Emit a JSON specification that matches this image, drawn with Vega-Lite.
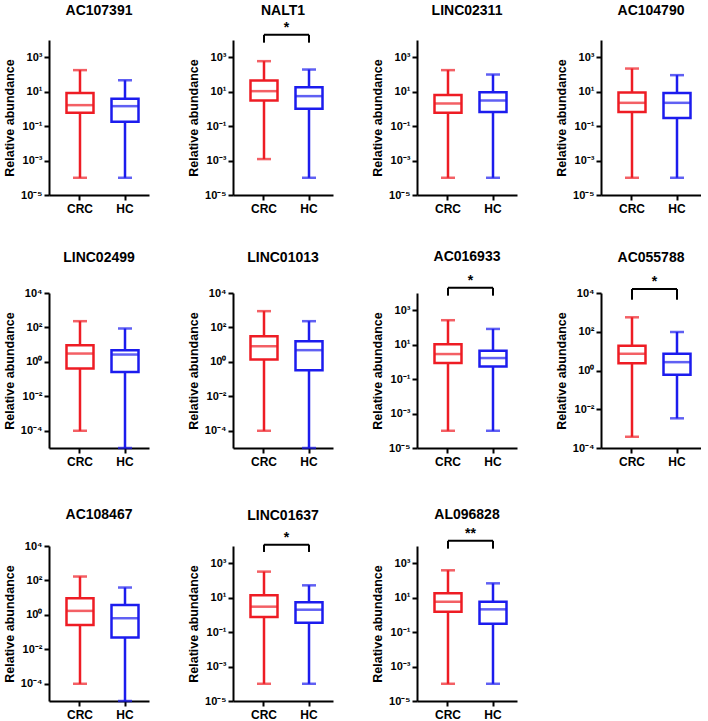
{
  "$schema": "https://vega.github.io/schema/vega-lite/v6.json",
  "background": "white",
  "padding": {"left": 3, "top": 3, "right": 0, "bottom": 0},
  "columns": 4,
  "bounds": "flush",
  "spacing": {"row": 98, "column": 84},
  "datasets": {
    "box": [
      {"gene": "AC107391", "group": "CRC", "min": 0.0001, "q1": 0.59, "median": 1.65, "q3": 8.5, "max": 178},
      {"gene": "AC107391", "group": "HC", "min": 0.0001, "q1": 0.178, "median": 1.44, "q3": 3.85, "max": 46},
      {"gene": "NALT1", "group": "CRC", "min": 0.00122, "q1": 3.08, "median": 10.7, "q3": 44, "max": 590, "sig": "*"},
      {"gene": "NALT1", "group": "HC", "min": 0.0001, "q1": 1.01, "median": 5.5, "q3": 18.2, "max": 193},
      {"gene": "LINC02311", "group": "CRC", "min": 0.0001, "q1": 0.59, "median": 2.06, "q3": 6.5, "max": 178},
      {"gene": "LINC02311", "group": "HC", "min": 0.0001, "q1": 0.65, "median": 3.07, "q3": 9.4, "max": 99},
      {"gene": "AC104790", "group": "CRC", "min": 0.0001, "q1": 0.65, "median": 2.25, "q3": 9.0, "max": 220},
      {"gene": "AC104790", "group": "HC", "min": 0.0001, "q1": 0.30, "median": 2.25, "q3": 8.5, "max": 91},
      {"gene": "LINC02499", "group": "CRC", "min": 0.0001, "q1": 0.41, "median": 3.05, "q3": 9.3, "max": 231},
      {"gene": "LINC02499", "group": "HC", "min": 0.00001, "q1": 0.26, "median": 2.67, "q3": 4.8, "max": 87},
      {"gene": "LINC01013", "group": "CRC", "min": 0.0001, "q1": 1.37, "median": 8.1, "q3": 31, "max": 883},
      {"gene": "LINC01013", "group": "HC", "min": 0.00001, "q1": 0.33, "median": 4.8, "q3": 15.9, "max": 231},
      {"gene": "AC016933", "group": "CRC", "min": 0.0001, "q1": 0.85, "median": 2.85, "q3": 10.5, "max": 263, "sig": "*"},
      {"gene": "AC016933", "group": "HC", "min": 0.0001, "q1": 0.54, "median": 1.67, "q3": 4.47, "max": 82},
      {"gene": "AC055788", "group": "CRC", "min": 0.00038, "q1": 2.4, "median": 7.3, "q3": 19, "max": 557, "sig": "*"},
      {"gene": "AC055788", "group": "HC", "min": 0.0034, "q1": 0.6, "median": 2.7, "q3": 7.3, "max": 97},
      {"gene": "AC108467", "group": "CRC", "min": 0.0001, "q1": 0.26, "median": 1.71, "q3": 9.3, "max": 169},
      {"gene": "AC108467", "group": "HC", "min": 0.00001, "q1": 0.048, "median": 0.64, "q3": 3.8, "max": 38.8},
      {"gene": "LINC01637", "group": "CRC", "min": 0.0001, "q1": 0.75, "median": 3.0, "q3": 13.7, "max": 325, "sig": "*"},
      {"gene": "LINC01637", "group": "HC", "min": 0.0001, "q1": 0.35, "median": 2.0, "q3": 5.4, "max": 52},
      {"gene": "AL096828", "group": "CRC", "min": 0.0001, "q1": 1.53, "median": 5.8, "q3": 17.9, "max": 388, "sig": "**"},
      {"gene": "AL096828", "group": "HC", "min": 0.0001, "q1": 0.31, "median": 2.1, "q3": 5.8, "max": 68}
    ]
  },
  "concat": [
    {
      "title": {"text": "AC107391", "offset": 22},
      "width": 100, "height": 155,
      "data": {"name": "box"},
      "transform": [{"filter": "datum.gene === 'AC107391'"}],
      "encoding": {
        "x": {"field": "group", "type": "nominal", "title": null, "scale": {"paddingInner": 0.4, "paddingOuter": 0.311, "align": 0.625}, "axis": {"labelAngle": 0}},
        "color": {"field": "group", "type": "nominal", "scale": {"domain": ["CRC", "HC"], "range": ["#ee1c24", "#1c1cee"]}, "legend": null}
      },
      "layer": [
        {"mark": "rule", "encoding": {"y": {"field": "min", "type": "quantitative", "scale": {"type": "log", "domain": [0.00001, 10000], "nice": false}, "axis": {"title": "Relative abundance", "values": [0.00001, 0.001, 0.1, 10, 1000], "labelExpr": "datum.value > 5000 ? '10⁴' : datum.value > 500 ? '10³' : datum.value > 50 ? '10²' : datum.value > 5 ? '10¹' : datum.value > 0.5 ? '10⁰' : datum.value > 0.05 ? '10⁻¹' : datum.value > 0.005 ? '10⁻²' : datum.value > 0.0005 ? '10⁻³' : datum.value > 0.00005 ? '10⁻⁴' : '10⁻⁵'"}}, "y2": {"field": "q1"}}},
        {"mark": "rule", "encoding": {"y": {"field": "q3", "type": "quantitative"}, "y2": {"field": "max"}}},
        {"mark": {"type": "bar", "filled": false}, "encoding": {"y": {"field": "q1", "type": "quantitative"}, "y2": {"field": "q3"}}},
        {"mark": {"type": "tick", "size": 27}, "encoding": {"y": {"field": "median", "type": "quantitative"}}},
        {"mark": {"type": "tick", "size": 14}, "encoding": {"y": {"field": "min", "type": "quantitative"}}},
        {"mark": {"type": "tick", "size": 14}, "encoding": {"y": {"field": "max", "type": "quantitative"}}}
      ]
    },
    {
      "title": {"text": "NALT1", "offset": 3},
      "width": 100, "height": 155,
      "data": {"name": "box"},
      "transform": [{"filter": "datum.gene === 'NALT1'"}],
      "encoding": {
        "x": {"field": "group", "type": "nominal", "title": null, "scale": {"paddingInner": 0.4, "paddingOuter": 0.311, "align": 0.625}, "axis": {"labelAngle": 0}},
        "color": {"field": "group", "type": "nominal", "scale": {"domain": ["CRC", "HC"], "range": ["#ee1c24", "#1c1cee"]}, "legend": null}
      },
      "layer": [
        {"mark": "rule", "encoding": {"y": {"field": "min", "type": "quantitative", "scale": {"type": "log", "domain": [0.00001, 10000], "nice": false}, "axis": {"title": "Relative abundance", "values": [0.00001, 0.001, 0.1, 10, 1000], "labelExpr": "datum.value > 5000 ? '10⁴' : datum.value > 500 ? '10³' : datum.value > 50 ? '10²' : datum.value > 5 ? '10¹' : datum.value > 0.5 ? '10⁰' : datum.value > 0.05 ? '10⁻¹' : datum.value > 0.005 ? '10⁻²' : datum.value > 0.0005 ? '10⁻³' : datum.value > 0.00005 ? '10⁻⁴' : '10⁻⁵'"}}, "y2": {"field": "q1"}}},
        {"mark": "rule", "encoding": {"y": {"field": "q3", "type": "quantitative"}, "y2": {"field": "max"}}},
        {"mark": {"type": "bar", "filled": false}, "encoding": {"y": {"field": "q1", "type": "quantitative"}, "y2": {"field": "q3"}}},
        {"mark": {"type": "tick", "size": 27}, "encoding": {"y": {"field": "median", "type": "quantitative"}}},
        {"mark": {"type": "tick", "size": 14}, "encoding": {"y": {"field": "min", "type": "quantitative"}}},
        {"mark": {"type": "tick", "size": 14}, "encoding": {"y": {"field": "max", "type": "quantitative"}}},
        {"transform": [{"filter": "datum.sig"}], "mark": {"type": "rule", "strokeWidth": 2}, "encoding": {"x": {"datum": "CRC"}, "x2": {"datum": "HC"}, "y": {"datum": 20000}, "color": {"value": "black"}}},
        {"transform": [{"filter": "datum.sig"}], "mark": {"type": "rule", "strokeWidth": 2}, "encoding": {"x": {"datum": "CRC"}, "y": {"datum": 20000}, "y2": {"datum": 7000}, "color": {"value": "black"}}},
        {"transform": [{"filter": "datum.sig"}], "mark": {"type": "rule", "strokeWidth": 2}, "encoding": {"x": {"datum": "HC"}, "y": {"datum": 20000}, "y2": {"datum": 7000}, "color": {"value": "black"}}},
        {"transform": [{"filter": "datum.sig"}], "mark": {"type": "text", "fontSize": 14, "fontWeight": "bold", "baseline": "alphabetic", "dx": 22.5, "dy": -3}, "encoding": {"x": {"datum": "CRC"}, "y": {"datum": 20000}, "text": {"field": "sig"}, "color": {"value": "black"}}}
      ]
    },
    {
      "title": {"text": "LINC02311", "offset": 22},
      "width": 100, "height": 155,
      "data": {"name": "box"},
      "transform": [{"filter": "datum.gene === 'LINC02311'"}],
      "encoding": {
        "x": {"field": "group", "type": "nominal", "title": null, "scale": {"paddingInner": 0.4, "paddingOuter": 0.311, "align": 0.625}, "axis": {"labelAngle": 0}},
        "color": {"field": "group", "type": "nominal", "scale": {"domain": ["CRC", "HC"], "range": ["#ee1c24", "#1c1cee"]}, "legend": null}
      },
      "layer": [
        {"mark": "rule", "encoding": {"y": {"field": "min", "type": "quantitative", "scale": {"type": "log", "domain": [0.00001, 10000], "nice": false}, "axis": {"title": "Relative abundance", "values": [0.00001, 0.001, 0.1, 10, 1000], "labelExpr": "datum.value > 5000 ? '10⁴' : datum.value > 500 ? '10³' : datum.value > 50 ? '10²' : datum.value > 5 ? '10¹' : datum.value > 0.5 ? '10⁰' : datum.value > 0.05 ? '10⁻¹' : datum.value > 0.005 ? '10⁻²' : datum.value > 0.0005 ? '10⁻³' : datum.value > 0.00005 ? '10⁻⁴' : '10⁻⁵'"}}, "y2": {"field": "q1"}}},
        {"mark": "rule", "encoding": {"y": {"field": "q3", "type": "quantitative"}, "y2": {"field": "max"}}},
        {"mark": {"type": "bar", "filled": false}, "encoding": {"y": {"field": "q1", "type": "quantitative"}, "y2": {"field": "q3"}}},
        {"mark": {"type": "tick", "size": 27}, "encoding": {"y": {"field": "median", "type": "quantitative"}}},
        {"mark": {"type": "tick", "size": 14}, "encoding": {"y": {"field": "min", "type": "quantitative"}}},
        {"mark": {"type": "tick", "size": 14}, "encoding": {"y": {"field": "max", "type": "quantitative"}}}
      ]
    },
    {
      "title": {"text": "AC104790", "offset": 22},
      "width": 100, "height": 155,
      "data": {"name": "box"},
      "transform": [{"filter": "datum.gene === 'AC104790'"}],
      "encoding": {
        "x": {"field": "group", "type": "nominal", "title": null, "scale": {"paddingInner": 0.4, "paddingOuter": 0.311, "align": 0.625}, "axis": {"labelAngle": 0}},
        "color": {"field": "group", "type": "nominal", "scale": {"domain": ["CRC", "HC"], "range": ["#ee1c24", "#1c1cee"]}, "legend": null}
      },
      "layer": [
        {"mark": "rule", "encoding": {"y": {"field": "min", "type": "quantitative", "scale": {"type": "log", "domain": [0.00001, 10000], "nice": false}, "axis": {"title": "Relative abundance", "values": [0.00001, 0.001, 0.1, 10, 1000], "labelExpr": "datum.value > 5000 ? '10⁴' : datum.value > 500 ? '10³' : datum.value > 50 ? '10²' : datum.value > 5 ? '10¹' : datum.value > 0.5 ? '10⁰' : datum.value > 0.05 ? '10⁻¹' : datum.value > 0.005 ? '10⁻²' : datum.value > 0.0005 ? '10⁻³' : datum.value > 0.00005 ? '10⁻⁴' : '10⁻⁵'"}}, "y2": {"field": "q1"}}},
        {"mark": "rule", "encoding": {"y": {"field": "q3", "type": "quantitative"}, "y2": {"field": "max"}}},
        {"mark": {"type": "bar", "filled": false}, "encoding": {"y": {"field": "q1", "type": "quantitative"}, "y2": {"field": "q3"}}},
        {"mark": {"type": "tick", "size": 27}, "encoding": {"y": {"field": "median", "type": "quantitative"}}},
        {"mark": {"type": "tick", "size": 14}, "encoding": {"y": {"field": "min", "type": "quantitative"}}},
        {"mark": {"type": "tick", "size": 14}, "encoding": {"y": {"field": "max", "type": "quantitative"}}}
      ]
    },
    {
      "title": {"text": "LINC02499", "offset": 22},
      "width": 100, "height": 155,
      "data": {"name": "box"},
      "transform": [{"filter": "datum.gene === 'LINC02499'"}],
      "encoding": {
        "x": {"field": "group", "type": "nominal", "title": null, "scale": {"paddingInner": 0.4, "paddingOuter": 0.311, "align": 0.625}, "axis": {"labelAngle": 0}},
        "color": {"field": "group", "type": "nominal", "scale": {"domain": ["CRC", "HC"], "range": ["#ee1c24", "#1c1cee"]}, "legend": null}
      },
      "layer": [
        {"mark": "rule", "encoding": {"y": {"field": "min", "type": "quantitative", "scale": {"type": "log", "domain": [0.00001, 10000], "nice": false}, "axis": {"title": "Relative abundance", "values": [0.0001, 0.01, 1, 100, 10000], "labelExpr": "datum.value > 5000 ? '10⁴' : datum.value > 500 ? '10³' : datum.value > 50 ? '10²' : datum.value > 5 ? '10¹' : datum.value > 0.5 ? '10⁰' : datum.value > 0.05 ? '10⁻¹' : datum.value > 0.005 ? '10⁻²' : datum.value > 0.0005 ? '10⁻³' : datum.value > 0.00005 ? '10⁻⁴' : '10⁻⁵'"}}, "y2": {"field": "q1"}}},
        {"mark": "rule", "encoding": {"y": {"field": "q3", "type": "quantitative"}, "y2": {"field": "max"}}},
        {"mark": {"type": "bar", "filled": false}, "encoding": {"y": {"field": "q1", "type": "quantitative"}, "y2": {"field": "q3"}}},
        {"mark": {"type": "tick", "size": 27}, "encoding": {"y": {"field": "median", "type": "quantitative"}}},
        {"mark": {"type": "tick", "size": 14}, "encoding": {"y": {"field": "min", "type": "quantitative"}}},
        {"mark": {"type": "tick", "size": 14}, "encoding": {"y": {"field": "max", "type": "quantitative"}}}
      ]
    },
    {
      "title": {"text": "LINC01013", "offset": 22},
      "width": 100, "height": 155,
      "data": {"name": "box"},
      "transform": [{"filter": "datum.gene === 'LINC01013'"}],
      "encoding": {
        "x": {"field": "group", "type": "nominal", "title": null, "scale": {"paddingInner": 0.4, "paddingOuter": 0.311, "align": 0.625}, "axis": {"labelAngle": 0}},
        "color": {"field": "group", "type": "nominal", "scale": {"domain": ["CRC", "HC"], "range": ["#ee1c24", "#1c1cee"]}, "legend": null}
      },
      "layer": [
        {"mark": "rule", "encoding": {"y": {"field": "min", "type": "quantitative", "scale": {"type": "log", "domain": [0.00001, 10000], "nice": false}, "axis": {"title": "Relative abundance", "values": [0.0001, 0.01, 1, 100, 10000], "labelExpr": "datum.value > 5000 ? '10⁴' : datum.value > 500 ? '10³' : datum.value > 50 ? '10²' : datum.value > 5 ? '10¹' : datum.value > 0.5 ? '10⁰' : datum.value > 0.05 ? '10⁻¹' : datum.value > 0.005 ? '10⁻²' : datum.value > 0.0005 ? '10⁻³' : datum.value > 0.00005 ? '10⁻⁴' : '10⁻⁵'"}}, "y2": {"field": "q1"}}},
        {"mark": "rule", "encoding": {"y": {"field": "q3", "type": "quantitative"}, "y2": {"field": "max"}}},
        {"mark": {"type": "bar", "filled": false}, "encoding": {"y": {"field": "q1", "type": "quantitative"}, "y2": {"field": "q3"}}},
        {"mark": {"type": "tick", "size": 27}, "encoding": {"y": {"field": "median", "type": "quantitative"}}},
        {"mark": {"type": "tick", "size": 14}, "encoding": {"y": {"field": "min", "type": "quantitative"}}},
        {"mark": {"type": "tick", "size": 14}, "encoding": {"y": {"field": "max", "type": "quantitative"}}}
      ]
    },
    {
      "title": {"text": "AC016933", "offset": 10},
      "width": 100, "height": 155,
      "data": {"name": "box"},
      "transform": [{"filter": "datum.gene === 'AC016933'"}],
      "encoding": {
        "x": {"field": "group", "type": "nominal", "title": null, "scale": {"paddingInner": 0.4, "paddingOuter": 0.311, "align": 0.625}, "axis": {"labelAngle": 0}},
        "color": {"field": "group", "type": "nominal", "scale": {"domain": ["CRC", "HC"], "range": ["#ee1c24", "#1c1cee"]}, "legend": null}
      },
      "layer": [
        {"mark": "rule", "encoding": {"y": {"field": "min", "type": "quantitative", "scale": {"type": "log", "domain": [0.00001, 10000], "nice": false}, "axis": {"title": "Relative abundance", "values": [0.00001, 0.001, 0.1, 10, 1000], "labelExpr": "datum.value > 5000 ? '10⁴' : datum.value > 500 ? '10³' : datum.value > 50 ? '10²' : datum.value > 5 ? '10¹' : datum.value > 0.5 ? '10⁰' : datum.value > 0.05 ? '10⁻¹' : datum.value > 0.005 ? '10⁻²' : datum.value > 0.0005 ? '10⁻³' : datum.value > 0.00005 ? '10⁻⁴' : '10⁻⁵'"}}, "y2": {"field": "q1"}}},
        {"mark": "rule", "encoding": {"y": {"field": "q3", "type": "quantitative"}, "y2": {"field": "max"}}},
        {"mark": {"type": "bar", "filled": false}, "encoding": {"y": {"field": "q1", "type": "quantitative"}, "y2": {"field": "q3"}}},
        {"mark": {"type": "tick", "size": 27}, "encoding": {"y": {"field": "median", "type": "quantitative"}}},
        {"mark": {"type": "tick", "size": 14}, "encoding": {"y": {"field": "min", "type": "quantitative"}}},
        {"mark": {"type": "tick", "size": 14}, "encoding": {"y": {"field": "max", "type": "quantitative"}}},
        {"transform": [{"filter": "datum.sig"}], "mark": {"type": "rule", "strokeWidth": 2}, "encoding": {"x": {"datum": "CRC"}, "x2": {"datum": "HC"}, "y": {"datum": 20000}, "color": {"value": "black"}}},
        {"transform": [{"filter": "datum.sig"}], "mark": {"type": "rule", "strokeWidth": 2}, "encoding": {"x": {"datum": "CRC"}, "y": {"datum": 20000}, "y2": {"datum": 7000}, "color": {"value": "black"}}},
        {"transform": [{"filter": "datum.sig"}], "mark": {"type": "rule", "strokeWidth": 2}, "encoding": {"x": {"datum": "HC"}, "y": {"datum": 20000}, "y2": {"datum": 7000}, "color": {"value": "black"}}},
        {"transform": [{"filter": "datum.sig"}], "mark": {"type": "text", "fontSize": 14, "fontWeight": "bold", "baseline": "alphabetic", "dx": 22.5, "dy": -3}, "encoding": {"x": {"datum": "CRC"}, "y": {"datum": 20000}, "text": {"field": "sig"}, "color": {"value": "black"}}}
      ]
    },
    {
      "title": {"text": "AC055788", "offset": 10},
      "width": 100, "height": 155,
      "data": {"name": "box"},
      "transform": [{"filter": "datum.gene === 'AC055788'"}],
      "encoding": {
        "x": {"field": "group", "type": "nominal", "title": null, "scale": {"paddingInner": 0.4, "paddingOuter": 0.311, "align": 0.625}, "axis": {"labelAngle": 0}},
        "color": {"field": "group", "type": "nominal", "scale": {"domain": ["CRC", "HC"], "range": ["#ee1c24", "#1c1cee"]}, "legend": null}
      },
      "layer": [
        {"mark": "rule", "encoding": {"y": {"field": "min", "type": "quantitative", "scale": {"type": "log", "domain": [0.0001, 10000], "nice": false}, "axis": {"title": "Relative abundance", "values": [0.0001, 0.01, 1, 100, 10000], "labelExpr": "datum.value > 5000 ? '10⁴' : datum.value > 500 ? '10³' : datum.value > 50 ? '10²' : datum.value > 5 ? '10¹' : datum.value > 0.5 ? '10⁰' : datum.value > 0.05 ? '10⁻¹' : datum.value > 0.005 ? '10⁻²' : datum.value > 0.0005 ? '10⁻³' : datum.value > 0.00005 ? '10⁻⁴' : '10⁻⁵'"}}, "y2": {"field": "q1"}}},
        {"mark": "rule", "encoding": {"y": {"field": "q3", "type": "quantitative"}, "y2": {"field": "max"}}},
        {"mark": {"type": "bar", "filled": false}, "encoding": {"y": {"field": "q1", "type": "quantitative"}, "y2": {"field": "q3"}}},
        {"mark": {"type": "tick", "size": 27}, "encoding": {"y": {"field": "median", "type": "quantitative"}}},
        {"mark": {"type": "tick", "size": 14}, "encoding": {"y": {"field": "min", "type": "quantitative"}}},
        {"mark": {"type": "tick", "size": 14}, "encoding": {"y": {"field": "max", "type": "quantitative"}}},
        {"transform": [{"filter": "datum.sig"}], "mark": {"type": "rule", "strokeWidth": 2}, "encoding": {"x": {"datum": "CRC"}, "x2": {"datum": "HC"}, "y": {"datum": 16000}, "color": {"value": "black"}}},
        {"transform": [{"filter": "datum.sig"}], "mark": {"type": "rule", "strokeWidth": 2}, "encoding": {"x": {"datum": "CRC"}, "y": {"datum": 16000}, "y2": {"datum": 4500}, "color": {"value": "black"}}},
        {"transform": [{"filter": "datum.sig"}], "mark": {"type": "rule", "strokeWidth": 2}, "encoding": {"x": {"datum": "HC"}, "y": {"datum": 16000}, "y2": {"datum": 4500}, "color": {"value": "black"}}},
        {"transform": [{"filter": "datum.sig"}], "mark": {"type": "text", "fontSize": 14, "fontWeight": "bold", "baseline": "alphabetic", "dx": 22.5, "dy": -3}, "encoding": {"x": {"datum": "CRC"}, "y": {"datum": 16000}, "text": {"field": "sig"}, "color": {"value": "black"}}}
      ]
    },
    {
      "title": {"text": "AC108467", "offset": 18},
      "width": 100, "height": 155,
      "data": {"name": "box"},
      "transform": [{"filter": "datum.gene === 'AC108467'"}],
      "encoding": {
        "x": {"field": "group", "type": "nominal", "title": null, "scale": {"paddingInner": 0.4, "paddingOuter": 0.311, "align": 0.625}, "axis": {"labelAngle": 0}},
        "color": {"field": "group", "type": "nominal", "scale": {"domain": ["CRC", "HC"], "range": ["#ee1c24", "#1c1cee"]}, "legend": null}
      },
      "layer": [
        {"mark": "rule", "encoding": {"y": {"field": "min", "type": "quantitative", "scale": {"type": "log", "domain": [0.00001, 10000], "nice": false}, "axis": {"title": "Relative abundance", "values": [0.0001, 0.01, 1, 100, 10000], "labelExpr": "datum.value > 5000 ? '10⁴' : datum.value > 500 ? '10³' : datum.value > 50 ? '10²' : datum.value > 5 ? '10¹' : datum.value > 0.5 ? '10⁰' : datum.value > 0.05 ? '10⁻¹' : datum.value > 0.005 ? '10⁻²' : datum.value > 0.0005 ? '10⁻³' : datum.value > 0.00005 ? '10⁻⁴' : '10⁻⁵'"}}, "y2": {"field": "q1"}}},
        {"mark": "rule", "encoding": {"y": {"field": "q3", "type": "quantitative"}, "y2": {"field": "max"}}},
        {"mark": {"type": "bar", "filled": false}, "encoding": {"y": {"field": "q1", "type": "quantitative"}, "y2": {"field": "q3"}}},
        {"mark": {"type": "tick", "size": 27}, "encoding": {"y": {"field": "median", "type": "quantitative"}}},
        {"mark": {"type": "tick", "size": 14}, "encoding": {"y": {"field": "min", "type": "quantitative"}}},
        {"mark": {"type": "tick", "size": 14}, "encoding": {"y": {"field": "max", "type": "quantitative"}}}
      ]
    },
    {
      "title": {"text": "LINC01637", "offset": 8},
      "width": 100, "height": 155,
      "data": {"name": "box"},
      "transform": [{"filter": "datum.gene === 'LINC01637'"}],
      "encoding": {
        "x": {"field": "group", "type": "nominal", "title": null, "scale": {"paddingInner": 0.4, "paddingOuter": 0.311, "align": 0.625}, "axis": {"labelAngle": 0}},
        "color": {"field": "group", "type": "nominal", "scale": {"domain": ["CRC", "HC"], "range": ["#ee1c24", "#1c1cee"]}, "legend": null}
      },
      "layer": [
        {"mark": "rule", "encoding": {"y": {"field": "min", "type": "quantitative", "scale": {"type": "log", "domain": [0.00001, 10000], "nice": false}, "axis": {"title": "Relative abundance", "values": [0.00001, 0.001, 0.1, 10, 1000], "labelExpr": "datum.value > 5000 ? '10⁴' : datum.value > 500 ? '10³' : datum.value > 50 ? '10²' : datum.value > 5 ? '10¹' : datum.value > 0.5 ? '10⁰' : datum.value > 0.05 ? '10⁻¹' : datum.value > 0.005 ? '10⁻²' : datum.value > 0.0005 ? '10⁻³' : datum.value > 0.00005 ? '10⁻⁴' : '10⁻⁵'"}}, "y2": {"field": "q1"}}},
        {"mark": "rule", "encoding": {"y": {"field": "q3", "type": "quantitative"}, "y2": {"field": "max"}}},
        {"mark": {"type": "bar", "filled": false}, "encoding": {"y": {"field": "q1", "type": "quantitative"}, "y2": {"field": "q3"}}},
        {"mark": {"type": "tick", "size": 27}, "encoding": {"y": {"field": "median", "type": "quantitative"}}},
        {"mark": {"type": "tick", "size": 14}, "encoding": {"y": {"field": "min", "type": "quantitative"}}},
        {"mark": {"type": "tick", "size": 14}, "encoding": {"y": {"field": "max", "type": "quantitative"}}},
        {"transform": [{"filter": "datum.sig"}], "mark": {"type": "rule", "strokeWidth": 2}, "encoding": {"x": {"datum": "CRC"}, "x2": {"datum": "HC"}, "y": {"datum": 12000}, "color": {"value": "black"}}},
        {"transform": [{"filter": "datum.sig"}], "mark": {"type": "rule", "strokeWidth": 2}, "encoding": {"x": {"datum": "CRC"}, "y": {"datum": 12000}, "y2": {"datum": 4500}, "color": {"value": "black"}}},
        {"transform": [{"filter": "datum.sig"}], "mark": {"type": "rule", "strokeWidth": 2}, "encoding": {"x": {"datum": "HC"}, "y": {"datum": 12000}, "y2": {"datum": 4500}, "color": {"value": "black"}}},
        {"transform": [{"filter": "datum.sig"}], "mark": {"type": "text", "fontSize": 14, "fontWeight": "bold", "baseline": "alphabetic", "dx": 22.5, "dy": -3}, "encoding": {"x": {"datum": "CRC"}, "y": {"datum": 12000}, "text": {"field": "sig"}, "color": {"value": "black"}}}
      ]
    },
    {
      "title": {"text": "AL096828", "offset": 5},
      "width": 100, "height": 155,
      "data": {"name": "box"},
      "transform": [{"filter": "datum.gene === 'AL096828'"}],
      "encoding": {
        "x": {"field": "group", "type": "nominal", "title": null, "scale": {"paddingInner": 0.4, "paddingOuter": 0.311, "align": 0.625}, "axis": {"labelAngle": 0}},
        "color": {"field": "group", "type": "nominal", "scale": {"domain": ["CRC", "HC"], "range": ["#ee1c24", "#1c1cee"]}, "legend": null}
      },
      "layer": [
        {"mark": "rule", "encoding": {"y": {"field": "min", "type": "quantitative", "scale": {"type": "log", "domain": [0.00001, 10000], "nice": false}, "axis": {"title": "Relative abundance", "values": [0.00001, 0.001, 0.1, 10, 1000], "labelExpr": "datum.value > 5000 ? '10⁴' : datum.value > 500 ? '10³' : datum.value > 50 ? '10²' : datum.value > 5 ? '10¹' : datum.value > 0.5 ? '10⁰' : datum.value > 0.05 ? '10⁻¹' : datum.value > 0.005 ? '10⁻²' : datum.value > 0.0005 ? '10⁻³' : datum.value > 0.00005 ? '10⁻⁴' : '10⁻⁵'"}}, "y2": {"field": "q1"}}},
        {"mark": "rule", "encoding": {"y": {"field": "q3", "type": "quantitative"}, "y2": {"field": "max"}}},
        {"mark": {"type": "bar", "filled": false}, "encoding": {"y": {"field": "q1", "type": "quantitative"}, "y2": {"field": "q3"}}},
        {"mark": {"type": "tick", "size": 27}, "encoding": {"y": {"field": "median", "type": "quantitative"}}},
        {"mark": {"type": "tick", "size": 14}, "encoding": {"y": {"field": "min", "type": "quantitative"}}},
        {"mark": {"type": "tick", "size": 14}, "encoding": {"y": {"field": "max", "type": "quantitative"}}},
        {"transform": [{"filter": "datum.sig"}], "mark": {"type": "rule", "strokeWidth": 2}, "encoding": {"x": {"datum": "CRC"}, "x2": {"datum": "HC"}, "y": {"datum": 20000}, "color": {"value": "black"}}},
        {"transform": [{"filter": "datum.sig"}], "mark": {"type": "rule", "strokeWidth": 2}, "encoding": {"x": {"datum": "CRC"}, "y": {"datum": 20000}, "y2": {"datum": 7000}, "color": {"value": "black"}}},
        {"transform": [{"filter": "datum.sig"}], "mark": {"type": "rule", "strokeWidth": 2}, "encoding": {"x": {"datum": "HC"}, "y": {"datum": 20000}, "y2": {"datum": 7000}, "color": {"value": "black"}}},
        {"transform": [{"filter": "datum.sig"}], "mark": {"type": "text", "fontSize": 14, "fontWeight": "bold", "baseline": "alphabetic", "dx": 22.5, "dy": -3}, "encoding": {"x": {"datum": "CRC"}, "y": {"datum": 20000}, "text": {"field": "sig"}, "color": {"value": "black"}}}
      ]
    }
  ],
  "config": {
    "font": "Liberation Sans",
    "view": {"stroke": null},
    "axis": {"domainColor": "black", "domainWidth": 2, "tickColor": "black", "tickWidth": 2, "tickSize": 5, "labelColor": "black", "labelFontWeight": "bold", "labelFontSize": 11, "labelPadding": 2, "titleFontWeight": "bold", "titleFontSize": 12.5, "titleColor": "black", "titlePadding": 4, "grid": false},
    "axisX": {"labelFontSize": 12, "labelPadding": 3},
    "title": {"fontSize": 14, "fontWeight": "bold", "color": "black", "anchor": "middle", "frame": "group"},
    "rule": {"strokeWidth": 2.5},
    "tick": {"thickness": 2.5},
    "bar": {"strokeWidth": 2.5}
  }
}
